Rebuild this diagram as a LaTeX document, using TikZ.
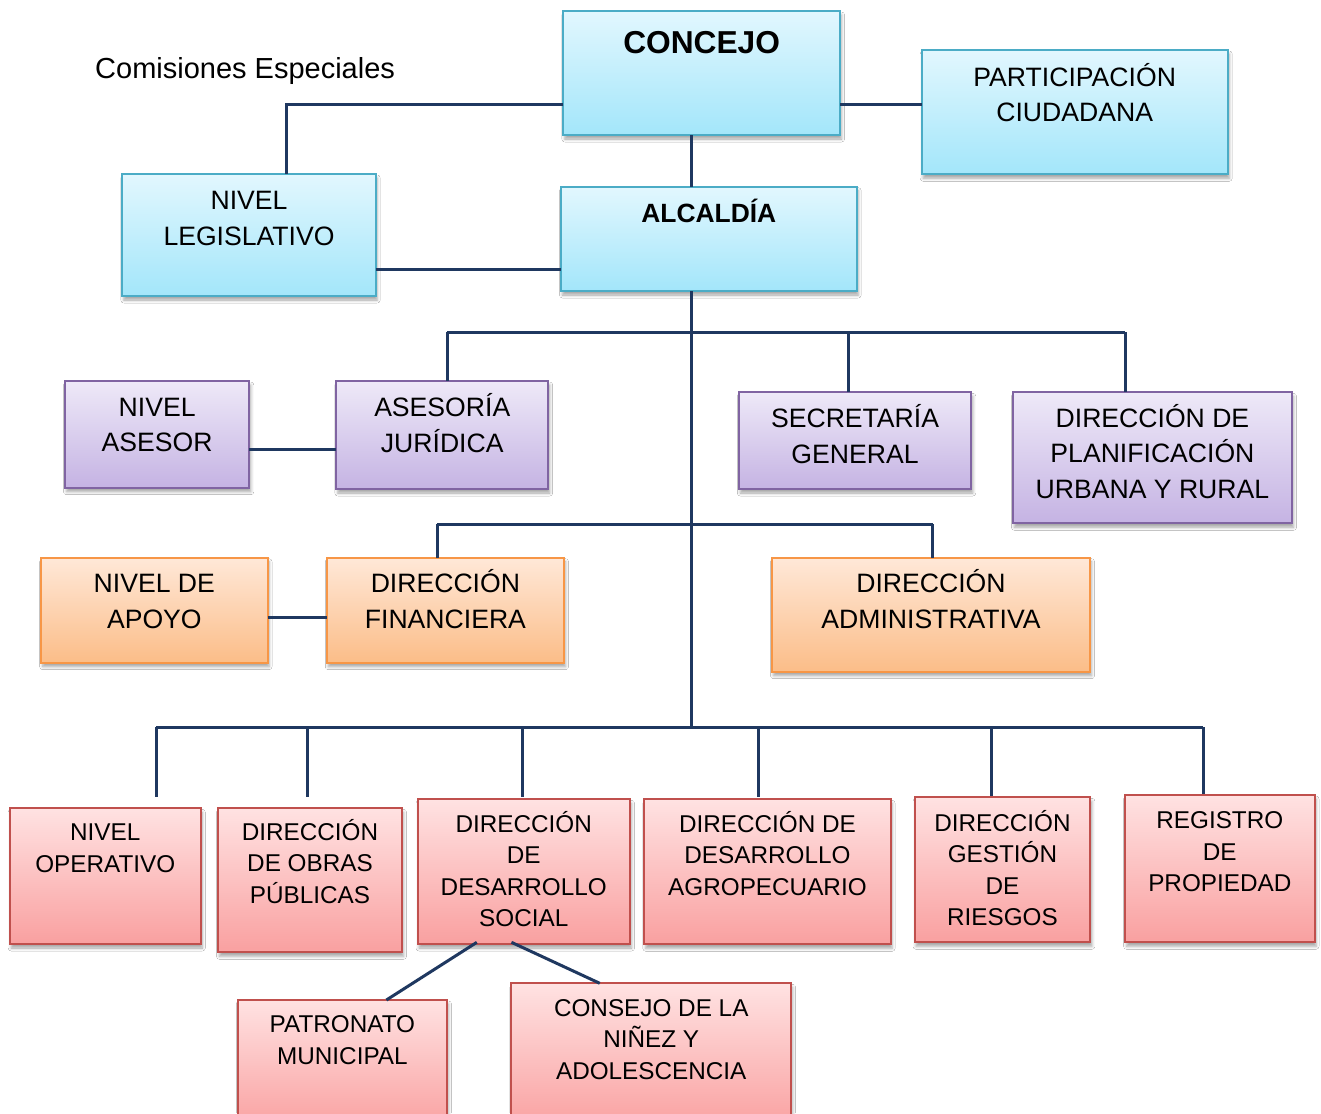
\documentclass[tikz,border=0pt]{standalone}
\usepackage{fontspec}
\setmainfont{Liberation Sans}
\usetikzlibrary{shadows.blur,calc}
\definecolor{lnc}{RGB}{31,56,96}
\definecolor{cyT}{RGB}{226,247,254}\definecolor{cyB}{RGB}{163,230,250}\definecolor{cyD}{RGB}{75,172,198}
\definecolor{puT}{RGB}{238,233,248}\definecolor{puB}{RGB}{197,179,227}\definecolor{puD}{RGB}{128,100,162}
\definecolor{orT}{RGB}{255,232,216}\definecolor{orB}{RGB}{251,189,136}\definecolor{orD}{RGB}{247,150,70}
\definecolor{reT}{RGB}{255,226,226}\definecolor{reB}{RGB}{249,160,160}\definecolor{reD}{RGB}{192,80,77}
\tikzset{
  basebox/.style={rectangle, inner sep=0pt, outer sep=0pt, line width=2pt,
    blur shadow={shadow xshift=1.5pt, shadow yshift=-4pt, shadow blur radius=3pt, shadow opacity=35}},
  cyanbox/.style={basebox, draw=cyD, top color=cyT, bottom color=cyB},
  purpbox/.style={basebox, draw=puD, top color=puT, bottom color=puB},
  orngbox/.style={basebox, draw=orD, top color=orT, bottom color=orB},
  redbox/.style={basebox, draw=reD, top color=reT, bottom color=reB},
  lbl/.style={inner sep=0pt, outer sep=0pt, align=center, anchor=base, font=\fontsize{26.6}{35.5}\selectfont},
  rlbl/.style={lbl, font=\fontsize{24.3}{31.5}\selectfont},
  conn/.style={draw=lnc, line width=3pt, line join=miter},
}
% #7 = baseline of the LAST text line
\newcommand{\obox}[9]{%
  \pgfmathsetmacro\bw{#5-#3}\pgfmathsetmacro\bh{#6-#4}%
  \node[#2, minimum width=\bw pt, minimum height=\bh pt, anchor=north west] (#1) at (#3,#4) {};
  \node[#9] (#1-t) at (#1.north |- 0,#7) {#8};
}
\begin{document}
\begin{tikzpicture}[x=1pt,y=-1pt]
\clip (0,0) rectangle (1321,1113);
\fill[white] (0,0) rectangle (1321,1113);
% coordinates
\coordinate (cLeg) at (286.7,104.3);
\coordinate (cLA) at (0,269.3);
\coordinate (vTr) at (691.7,727);
\coordinate (j1a) at (447,332.3);
\coordinate (j1b) at (848.5,332.3);
\coordinate (j1c) at (1125,332.3);
\coordinate (cNA) at (0,449);
\coordinate (j2a) at (437,524);
\coordinate (j2b) at (932.5,524);
\coordinate (cAF) at (0,617.7);
\coordinate (k1) at (156,727);
\coordinate (k2) at (307,727);
\coordinate (k3) at (522,727);
\coordinate (k4) at (758,727);
\coordinate (k5) at (991,727);
\coordinate (k6) at (1203,727);
% connectors first (boxes drawn over them)
\draw[conn] (k1) -- (k6);
\foreach \k in {k1,k2,k3,k4,k5,k6} {\draw[conn] (\k) -- ++(0,70);}
\draw[conn] (j1a) -- (j1c);
\draw[conn] (j2a) -- (j2b);
% boxes
\obox{conc}{cyanbox}{563.3}{11}{840}{135}{53.3}{CONCEJO}{lbl, font=\fontsize{31.7}{38}\selectfont\bfseries}
\obox{alc}{cyanbox}{561}{186.7}{856.7}{291}{222.7}{ALCALDÍA}{lbl, font=\fontsize{26.4}{32}\selectfont\bfseries}
\obox{part}{cyanbox}{921.7}{50}{1227.7}{174.3}{121.5}{PARTICIPACIÓN\\CIUDADANA}{lbl}
\obox{leg}{cyanbox}{122.3}{174}{375.7}{296}{245.2}{NIVEL\\LEGISLATIVO}{lbl}
\obox{nas}{purpbox}{65}{381}{249.3}{487.7}{451.7}{NIVEL\\ASESOR}{lbl}
\obox{ase}{purpbox}{336.3}{381}{548.2}{489}{452.3}{ASESORÍA\\JURÍDICA}{lbl}
\obox{sec}{purpbox}{738.8}{392.3}{971.3}{489}{463.3}{SECRETARÍA\\GENERAL}{lbl}
\obox{pla}{purpbox}{1012.9}{392.3}{1292}{523.3}{498.3}{DIRECCIÓN DE\\PLANIFICACIÓN\\URBANA Y RURAL}{lbl}
\obox{nap}{orngbox}{41.2}{557.7}{267.5}{662.7}{628.3}{NIVEL DE\\APOYO}{lbl}
\obox{fin}{orngbox}{326.8}{557.7}{564}{662.7}{628.3}{DIRECCIÓN\\FINANCIERA}{lbl}
\obox{adm}{orngbox}{772}{557.7}{1090}{671.7}{628.3}{DIRECCIÓN\\ADMINISTRATIVA}{lbl}
\obox{nop}{redbox}{9.7}{808.3}{200.8}{944}{872.2}{NIVEL\\OPERATIVO}{rlbl}
\obox{obr}{redbox}{218}{808.3}{402}{952.3}{903.2}{DIRECCIÓN\\DE OBRAS\\PÚBLICAS}{rlbl}
\obox{soc}{redbox}{417.5}{799.3}{630}{944}{926.7}{DIRECCIÓN\\DE\\DESARROLLO\\SOCIAL}{rlbl}
\obox{agr}{redbox}{644.3}{799.3}{890.6}{944.3}{895}{DIRECCIÓN DE\\DESARROLLO\\AGROPECUARIO}{rlbl}
\obox{rie}{redbox}{914.5}{797.3}{1090.4}{942.3}{925.7}{DIRECCIÓN\\GESTIÓN\\DE\\RIESGOS}{rlbl}
\obox{reg}{redbox}{1125.1}{795}{1314.5}{942.3}{891.7}{REGISTRO\\DE\\PROPIEDAD}{rlbl}
\obox{pat}{redbox}{237.8}{1000}{447}{1130}{1064}{PATRONATO\\MUNICIPAL}{rlbl}
\obox{cnj}{redbox}{511.4}{983.3}{791.1}{1130}{1079}{CONSEJO DE LA\\NIÑEZ Y\\ADOLESCENCIA}{rlbl}
\node[inner sep=0pt, anchor=base west, font=\fontsize{29}{34}\selectfont] (com) at (95,78.3) {Comisiones Especiales};
% connectors between named boxes
\draw[conn] (conc.west |- cLeg) -- (cLeg) -- (cLeg |- leg.north);
\draw[conn] (conc.east |- cLeg) -- (part.west |- cLeg);
\draw[conn] (conc.south -| vTr) -- (alc.north -| vTr);
\draw[conn] (alc.south -| vTr) -- (vTr);
\draw[conn] (leg.east |- cLA) -- (alc.west |- cLA);
\draw[conn] (j1a) -- (j1a |- ase.north);
\draw[conn] (j1b) -- (j1b |- sec.north);
\draw[conn] (j1c) -- (j1c |- pla.north);
\draw[conn] (nas.east |- cNA) -- (ase.west |- cNA);
\draw[conn] (j2a) -- (j2a |- fin.north);
\draw[conn] (j2b) -- (j2b |- adm.north);
\draw[conn] (nap.east |- cAF) -- (fin.west |- cAF);
\draw[conn] ($(soc.south)+(-46.9,-1.7)$) -- ($(pat.north)+(44,0)$);
\draw[conn] ($(soc.south)+(-12.3,-1.7)$) -- ($(cnj.north)+(-51.5,0)$);
\end{tikzpicture}
\end{document}
